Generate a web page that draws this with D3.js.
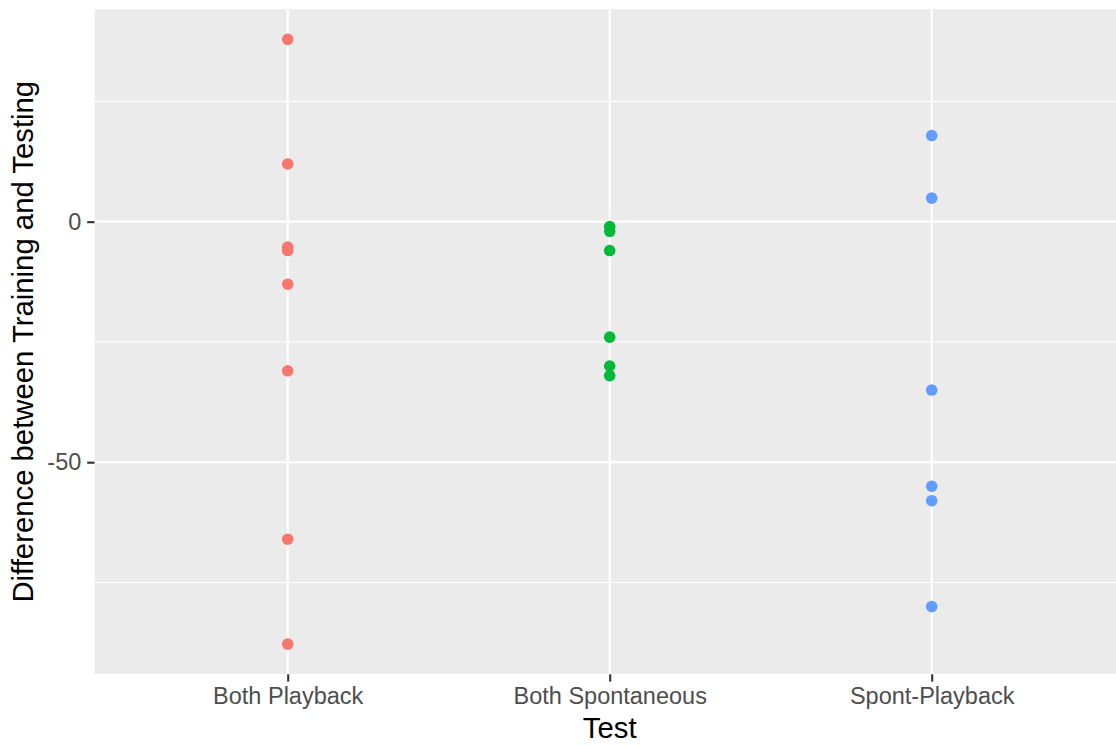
<!DOCTYPE html>
<html>
<head>
<meta charset="utf-8">
<script src="https://cdn.jsdelivr.net/npm/d3@7"></script>
<style>
  html, body { margin: 0; padding: 0; background: #ffffff; }
  svg { display: block; }
  text { font-family: "Liberation Sans", Arial, Helvetica, sans-serif; }
</style>
</head>
<body>
<svg id="chart" width="1116" height="746"></svg>
<script>
// Difference between training and testing, one group of dots per test type
const categories = ["Both Playback", "Both Spontaneous", "Spont-Playback"];
const bothPlayback = [37.9, 12, -5.3, -6, -13, -31, -66, -87.8];
const bothSpontaneous = [-1, -2, -6, -24, -30, -32];
const spontPlayback = [17.9, 4.9, -35, -55, -58, -80];
const seriesColors = ["#F8766D", "#00BA38", "#619CFF"];
const yTickValues = [-50, 0];
const yMinorValues = [-75, -25, 25];

const groups = [bothPlayback, bothSpontaneous, spontPlayback];
const points = [];
groups.forEach((vals, i) => vals.forEach(v => points.push({ cat: categories[i], value: v, color: seriesColors[i] })));

const panel = { left: 94.5, right: 1124.9, top: 9.1, bottom: 674.3 };
const tickFont = "'Liberation Sans', Arial, Helvetica, sans-serif";

const svg = d3.select("#chart");

const x = d3.scalePoint()
  .domain(categories)
  .range([panel.left, panel.right])
  .padding(0.6);

// data range padded by 5% on each side
const ext = d3.extent(points, d => d.value);
const pad = (ext[1] - ext[0]) * 0.05;
const y = d3.scaleLinear()
  .domain([ext[0] - pad, ext[1] + pad])
  .range([panel.bottom, panel.top]);

svg.append("defs").append("clipPath").attr("id", "panelClip")
  .append("rect")
  .attr("x", panel.left).attr("y", panel.top)
  .attr("width", panel.right - panel.left).attr("height", panel.bottom - panel.top);

const plot = svg.append("g").attr("clip-path", "url(#panelClip)");

plot.append("rect")
  .attr("x", panel.left).attr("y", panel.top)
  .attr("width", panel.right - panel.left).attr("height", panel.bottom - panel.top)
  .attr("fill", "#EBEBEB");

// minor horizontal grid
plot.selectAll("line.minor").data(yMinorValues).join("line")
  .attr("class", "minor")
  .attr("x1", panel.left).attr("x2", panel.right)
  .attr("y1", d => y(d)).attr("y2", d => y(d))
  .attr("stroke", "#ffffff").attr("stroke-width", 1.1);

// major horizontal grid
plot.selectAll("line.majorY").data(yTickValues).join("line")
  .attr("class", "majorY")
  .attr("x1", panel.left).attr("x2", panel.right)
  .attr("y1", d => y(d)).attr("y2", d => y(d))
  .attr("stroke", "#ffffff").attr("stroke-width", 2.1);

// vertical grid at each category
plot.selectAll("line.majorX").data(categories).join("line")
  .attr("class", "majorX")
  .attr("x1", d => x(d)).attr("x2", d => x(d))
  .attr("y1", panel.top).attr("y2", panel.bottom)
  .attr("stroke", "#ffffff").attr("stroke-width", 2.1);

// points
plot.selectAll("circle").data(points).join("circle")
  .attr("cx", d => x(d.cat))
  .attr("cy", d => y(d.value))
  .attr("r", 5.8)
  .attr("fill", d => d.color);

// y axis (plain hyphen for negative labels)
const yAxis = svg.append("g")
  .attr("transform", `translate(${panel.left},0)`)
  .call(d3.axisLeft(y).tickValues(yTickValues).tickSize(7.3).tickPadding(5.9).tickFormat(d => String(d)));
yAxis.select(".domain").remove();
yAxis.selectAll(".tick line").attr("stroke", "#333333").attr("stroke-width", 2.1);
yAxis.selectAll(".tick text")
  .attr("fill", "#4D4D4D")
  .style("font-size", "23.5px")
  .style("font-family", tickFont);

// x axis
const xAxis = svg.append("g")
  .attr("transform", `translate(0,${panel.bottom})`)
  .call(d3.axisBottom(x).tickSize(7.3).tickPadding(5.9));
xAxis.select(".domain").remove();
xAxis.selectAll(".tick line").attr("stroke", "#333333").attr("stroke-width", 2.1);
xAxis.selectAll(".tick text")
  .attr("fill", "#4D4D4D")
  .style("font-size", "23.5px")
  .style("font-family", tickFont);

// axis titles
svg.append("text")
  .attr("x", (panel.left + panel.right) / 2)
  .attr("y", 738)
  .attr("text-anchor", "middle")
  .attr("fill", "#000000")
  .style("font-size", "29.3px")
  .text("Test");

svg.append("text")
  .attr("transform", `translate(33,${(panel.top + panel.bottom) / 2}) rotate(-90)`)
  .attr("text-anchor", "middle")
  .attr("fill", "#000000")
  .style("font-size", "29.3px")
  .text("Difference between Training and Testing");
</script>
</body>
</html>
